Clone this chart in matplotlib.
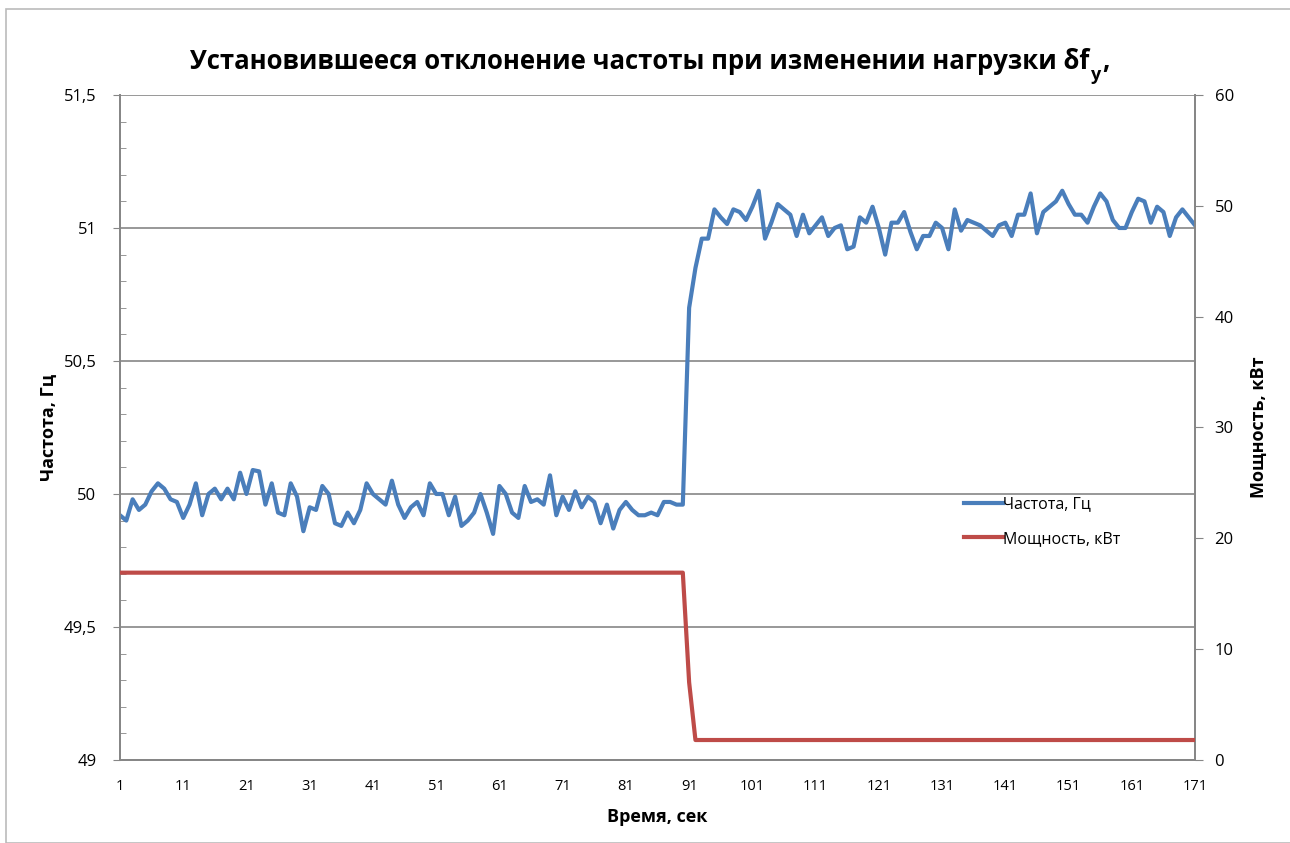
import matplotlib
matplotlib.use("Agg")
import matplotlib.pyplot as plt
from matplotlib.patches import Rectangle
from matplotlib.ticker import MultipleLocator

plt.rcParams['font.family'] = ['Open Sans', 'DejaVu Sans']

# время, сек
t = list(range(1, 172))

# частота, Гц
freq = [
    49.92, 49.90, 49.98, 49.94, 49.96, 50.01, 50.04, 50.02, 49.98, 49.97,
    49.91, 49.96, 50.04, 49.92, 50.00, 50.02, 49.98, 50.02, 49.98, 50.08,
    50.00, 50.09, 50.085, 49.96, 50.04, 49.93, 49.92, 50.04, 49.99, 49.86,
    49.95, 49.94, 50.03, 50.00, 49.89, 49.88, 49.93, 49.89, 49.94, 50.04,
    50.00, 49.98, 49.96, 50.05, 49.96, 49.91, 49.95, 49.97, 49.92, 50.04,
    50.00, 50.00, 49.92, 49.99, 49.88, 49.90, 49.93, 50.00, 49.93, 49.85,
    50.03, 50.00, 49.93, 49.91, 50.03, 49.97, 49.98, 49.96, 50.07, 49.92,
    49.99, 49.94, 50.01, 49.95, 49.99, 49.97, 49.89, 49.96, 49.87, 49.94,
    49.97, 49.94, 49.92, 49.92, 49.93, 49.92, 49.97, 49.97, 49.96, 49.96,
    50.70, 50.85, 50.96, 50.96, 51.07, 51.04, 51.015, 51.07, 51.06, 51.03,
    51.08, 51.14, 50.96, 51.02, 51.09, 51.07, 51.05, 50.97, 51.05, 50.98,
    51.01, 51.04, 50.97, 51.00, 51.01, 50.92, 50.93, 51.04, 51.02, 51.08,
    51.00, 50.90, 51.02, 51.02, 51.06, 50.985, 50.92, 50.97, 50.97, 51.02,
    51.00, 50.92, 51.07, 50.99, 51.03, 51.02, 51.01, 50.99, 50.97, 51.01,
    51.02, 50.97, 51.05, 51.05, 51.13, 50.98, 51.06, 51.08, 51.10, 51.14,
    51.09, 51.05, 51.05, 51.02, 51.08, 51.13, 51.10, 51.03, 51.00, 51.00,
    51.06, 51.11, 51.10, 51.02, 51.08, 51.06, 50.97, 51.04, 51.07, 51.04,
    51.01,
]

# мощность, кВт
power = [16.9] * 90 + [7.0] + [1.8] * 80

xticks = list(range(1, 172, 10))
left_ticks = [49, 49.5, 50, 50.5, 51, 51.5]
left_labels = ["49", "49,5", "50", "50,5", "51", "51,5"]
right_ticks = [0, 10, 20, 30, 40, 50, 60]

blue = "#4A7EBB"
red = "#BE4B48"
grey = "#868686"

fig = plt.figure(figsize=(12.9, 8.43), dpi=100)
ax = fig.add_axes([0.093, 0.0985, 0.8334, 0.7888])
ax2 = ax.twinx()

l1, = ax.plot(t, freq, color=blue, lw=3, solid_joinstyle="round", zorder=3)
l2, = ax2.plot(t, power, color=red, lw=3, solid_joinstyle="round", zorder=3)

ax.set_xlim(1, 171)
ax.set_ylim(49, 51.5)
ax2.set_ylim(0, 60)

ax.set_yticks(left_ticks)
ax.set_yticklabels(left_labels)
ax.yaxis.set_minor_locator(MultipleLocator(0.1))
ax2.set_yticks(right_ticks)
ax.set_xticks(xticks)
ax.set_xticklabels([str(v) for v in xticks])

ax.grid(axis="y", color=grey, lw=1.2)
ax.set_axisbelow(True)

for a in (ax, ax2):
    for s in a.spines.values():
        s.set_color(grey)
        s.set_linewidth(1.3)
ax2.spines["top"].set_visible(False)
ax.spines["top"].set_visible(False)

ax.tick_params(axis="y", which="major", direction="out", length=5, color=grey,
               labelsize=12, pad=12)
ax.tick_params(axis="y", which="minor", direction="in", length=4, color=grey)
ax.tick_params(axis="x", length=0, labelsize=10.5, pad=14)
ax2.tick_params(axis="y", direction="out", length=6, color=grey, labelsize=12, pad=8)

ax.set_xlabel("Время, сек", fontsize=13, fontweight="bold", labelpad=10)
ax.set_ylabel("Частота, Гц", fontsize=13, fontweight="bold", labelpad=4)
ax2.set_ylabel("Мощность, кВт", fontsize=13, fontweight="bold", labelpad=12)

ax.legend([l1, l2], ["Частота, Гц", "Мощность, кВт"], frameon=False,
          loc="upper left", bbox_to_anchor=(0.772, 0.418), fontsize=11.5,
          handlelength=2.4, handletextpad=0.0, labelspacing=1.15)

# заголовок с нижним индексом
ty = 0.918
title = fig.text(0.5 - 5 / 1290, ty,
                 "Установившееся отклонение частоты при изменении нагрузки δf",
                 ha="center", va="baseline", fontsize=18.5, fontweight="bold")
fig.canvas.draw()
bb = title.get_window_extent()
fig.text(bb.x1 / 1290 + 0.001, ty - 0.013, "у", ha="left", va="baseline",
         fontsize=13, fontweight="bold")
fig.text(bb.x1 / 1290 + 0.010, ty, ",", ha="left", va="baseline",
         fontsize=18.5, fontweight="bold")

fig.patches.append(Rectangle((6 / 1290, 0), 1.2, 1 - 9 / 843,
                             transform=fig.transFigure, fill=False,
                             edgecolor="#BBBBBB", lw=1.2))

fig.savefig("out.png", dpi=100)
